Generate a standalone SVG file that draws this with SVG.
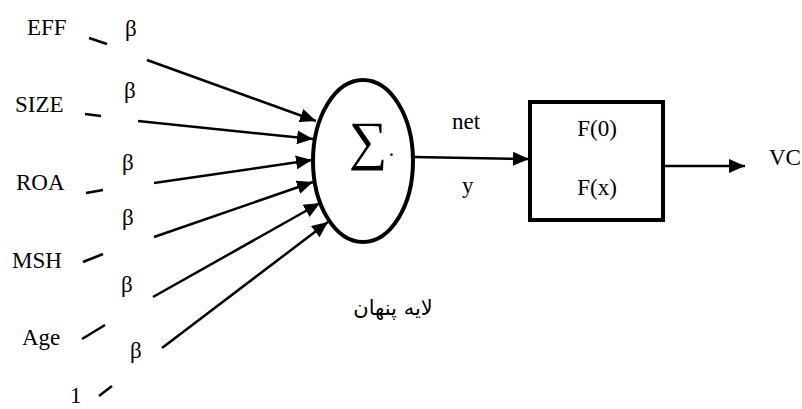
<svg xmlns="http://www.w3.org/2000/svg" width="802" height="409" viewBox="0 0 802 409">
<style>
.t{font-family:"Liberation Serif","Times New Roman",serif;font-size:23px;fill:#000}
.ln{stroke:#000;stroke-width:2.5;fill:none}
.ar{stroke:#000;stroke-width:2.5;fill:none;marker-end:url(#ah)}
.sh{stroke:#000;stroke-width:4;fill:#fff}
</style>
<defs>
<marker id="ah" markerUnits="userSpaceOnUse" markerWidth="18" markerHeight="14" refX="16" refY="7" orient="auto">
<path d="M0,0 L16,7 L0,14 Z" fill="#000"/>
</marker>
</defs>
<g id="labels">
<text class="t" x="27" y="35">EFF</text>
<text class="t" x="15" y="112">SIZE</text>
<text class="t" x="16" y="190">ROA</text>
<text class="t" x="12" y="268">MSH</text>
<text class="t" x="22" y="345">Age</text>
<text class="t" x="70" y="403">1</text>
<text class="t" x="125" y="36">β</text>
<text class="t" x="124" y="98">β</text>
<text class="t" x="122" y="170">β</text>
<text class="t" x="122" y="225">β</text>
<text class="t" x="121" y="292">β</text>
<text class="t" x="130" y="358">β</text>
</g>
<g id="connectors">
<line class="ln" x1="89" y1="38" x2="107" y2="44"/>
<line class="ln" x1="85" y1="114" x2="101" y2="116"/>
<line class="ln" x1="86" y1="193" x2="103" y2="190"/>
<line class="ln" x1="83" y1="262" x2="103" y2="254"/>
<line class="ln" x1="82" y1="339" x2="105" y2="325"/>
<line class="ln" x1="99" y1="396" x2="112" y2="386"/>
<line class="ar" x1="147" y1="60" x2="316" y2="121"/>
<line class="ar" x1="138" y1="121" x2="313" y2="139"/>
<line class="ar" x1="154" y1="183" x2="312" y2="160"/>
<line class="ar" x1="154" y1="237" x2="313" y2="182"/>
<line class="ar" x1="153" y1="297" x2="320" y2="203"/>
<line class="ar" x1="162" y1="348" x2="328" y2="222"/>
<line class="ar" x1="413" y1="157" x2="529" y2="159"/>
<line class="ar" x1="664" y1="166" x2="745" y2="166"/>
</g>
<g id="sum">
<ellipse class="sh" cx="363" cy="161" rx="50" ry="81"/>
<text class="t" x="349" y="159" style="font-size:54px">∑<tspan style="font-size:23px" dx="1" dy="-3">.</tspan></text>
</g>
<g id="func">
<rect class="sh" x="530" y="102" width="133" height="118"/>
<text class="t" x="597" y="136" text-anchor="middle">F(0)</text>
<text class="t" x="597" y="195" text-anchor="middle">F(x)</text>
</g>
<g id="texts">
<text class="t" x="452" y="129">net</text>
<text class="t" x="462" y="193">y</text>
<text class="t" x="769" y="165">VC</text>
<text x="393" y="315" text-anchor="middle" direction="rtl" style="font-family:'DejaVu Sans','Noto Sans',sans-serif;font-size:21px">لایه پنهان</text>
</g>
</svg>
